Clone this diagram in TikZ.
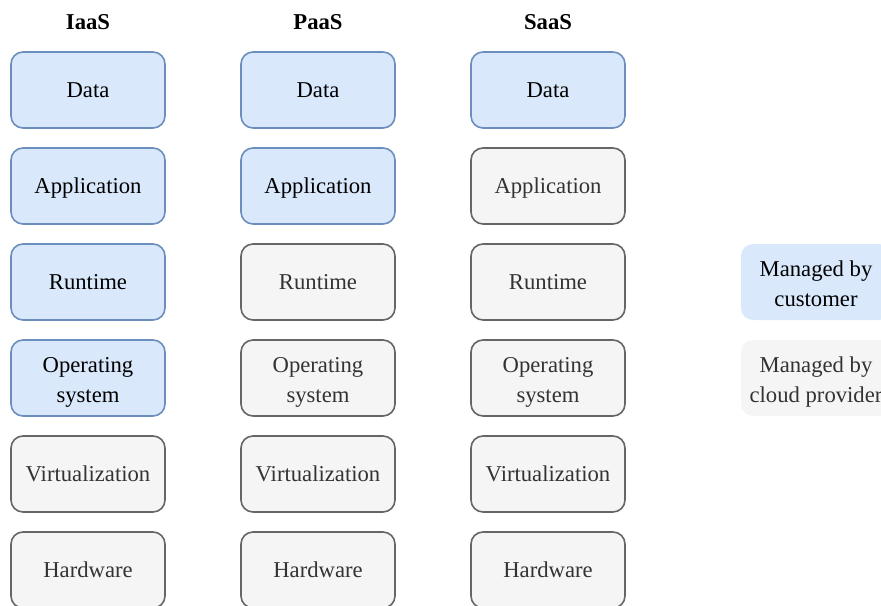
\documentclass[tikz,border=0pt]{standalone}
\usepackage{fontspec}
\setmainfont{Liberation Serif}
\definecolor{custfill}{HTML}{DAE8FC}
\definecolor{custline}{HTML}{6C8EBF}
\definecolor{provfill}{HTML}{F5F5F5}
\definecolor{provline}{HTML}{666666}
\definecolor{provtext}{HTML}{333333}
\tikzset{
  layer/.style={rounded corners=9pt, line width=1.2pt, minimum width=115.5pt,
    minimum height=57pt, align=center, inner sep=0pt,
    font=\fontsize{17}{22.5}\selectfont, text height=11.25pt, text depth=0pt},
  twoline/.style={text height=36pt, text depth=0pt},
  cust/.style={layer, draw=custline, fill=custfill, text=black},
  prov/.style={layer, draw=provline, fill=provfill, text=provtext},
  custkey/.style={layer, twoline, minimum width=112.5pt, fill=custfill, text=black},
  provkey/.style={layer, twoline, minimum width=112.5pt, fill=provfill, text=provtext},
  head/.style={font=\fontsize{17}{20}\selectfont\bfseries}
}
\begin{document}
\begin{tikzpicture}[x=0.75pt,y=-0.75pt]
\clip (0,0) rectangle (881,606);
\fill[white] (0,0) rectangle (881,606);

% column headings
\node[head] (hI) at (88,22) {IaaS};
\node[head] (hP) at (318,22) {PaaS};
\node[head] (hS) at (548,22) {SaaS};

% IaaS stack
\node[cust] (i1) at (88,90)  {Data};
\node[cust] (i2) at (88,186) {Application};
\node[cust] (i3) at (88,282) {Runtime};
\node[cust, twoline] (i4) at (88,378) {Operating\\system};
\node[prov] (i5) at (88,474) {Virtualization};
\node[prov] (i6) at (88,570) {Hardware};

% PaaS stack
\node[cust] (p1) at (318,90)  {Data};
\node[cust] (p2) at (318,186) {Application};
\node[prov] (p3) at (318,282) {Runtime};
\node[prov, twoline] (p4) at (318,378) {Operating\\system};
\node[prov] (p5) at (318,474) {Virtualization};
\node[prov] (p6) at (318,570) {Hardware};

% SaaS stack
\node[cust] (s1) at (548,90)  {Data};
\node[prov] (s2) at (548,186) {Application};
\node[prov] (s3) at (548,282) {Runtime};
\node[prov, twoline] (s4) at (548,378) {Operating\\system};
\node[prov] (s5) at (548,474) {Virtualization};
\node[prov] (s6) at (548,570) {Hardware};

% key
\node[custkey] (k1) at (816,282) {Managed by\\customer};
\node[provkey] (k2) at (816,378) {Managed by\\cloud provider};
\end{tikzpicture}
\end{document}
